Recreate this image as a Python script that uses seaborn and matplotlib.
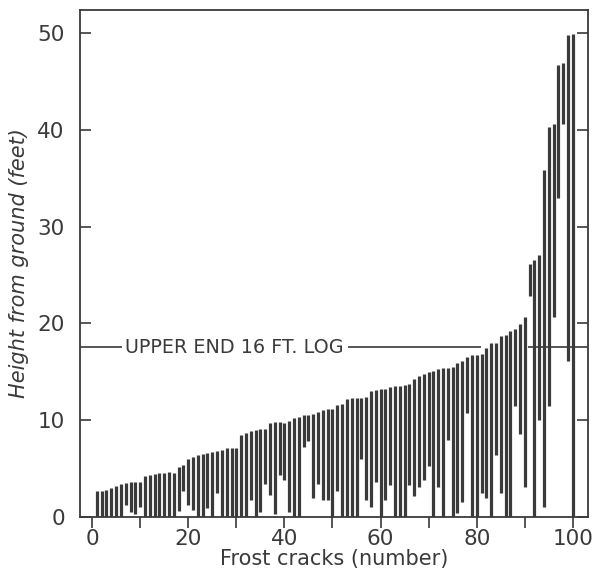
import pandas as pd
import matplotlib
matplotlib.use("Agg")
import matplotlib.pyplot as plt
import seaborn as sns

# frost cracks sorted by upper end, lower and upper end of each crack (feet)
crack_no = list(range(1, 101))
crack_bottom = [
    0, 0, 0, 0, 0, 0, 1.2, 0.5, 0.3, 1.0,
    0, 0, 0, 0, 0, 0, 0, 0.6, 2.6, 1.2,
    0.7, 0, 0, 0.85, 0, 2.4, 0, 0, 0, 0,
    0, 0, 1.7, 0, 0.5, 3.4, 2.2, 0.3, 4.3, 3.8,
    0.5, 0, 0, 7.2, 7.8, 1.9, 3.4, 1.7, 1.7, 0,
    2.6, 0, 0, 0, 0, 5.9, 1.7, 1.0, 3.6, 0,
    1.7, 3.3, 0, 0, 0, 3.3, 2.1, 3.1, 3.8, 5.2,
    0, 3.1, 0, 7.9, 0, 0.4, 1.5, 10.7, 0, 0,
    2.4, 1.9, 0, 6.4, 2.4, 0, 0, 11.4, 8.5, 3.1,
    22.8, 0, 10.0, 1.0, 11.4, 20.6, 33.0, 40.6, 16.1, 0,
]
crack_top = [
    2.6, 2.65, 2.75, 3.0, 3.15, 3.35, 3.45, 3.6, 3.6, 3.55,
    4.2, 4.3, 4.4, 4.55, 4.55, 4.65, 4.55, 5.1, 5.35, 5.95,
    6.2, 6.4, 6.5, 6.62, 6.7, 6.8, 6.9, 7.05, 7.1, 7.1,
    8.45, 8.6, 8.8, 8.95, 9.05, 9.1, 9.65, 9.8, 9.8, 9.65,
    9.85, 10.2, 10.3, 10.45, 10.5, 10.6, 10.85, 11.0, 11.1, 11.1,
    11.5, 11.65, 12.15, 12.25, 12.25, 12.25, 12.4, 13.0, 13.1, 13.15,
    13.2, 13.4, 13.5, 13.55, 13.65, 13.7, 14.2, 14.55, 14.7, 14.9,
    15.05, 15.3, 15.35, 15.4, 15.5, 15.9, 16.05, 16.5, 16.7, 16.75,
    16.8, 17.4, 17.9, 18.0, 18.65, 18.75, 19.15, 19.35, 19.95, 20.6,
    26.1, 26.5, 27.1, 35.8, 40.3, 40.6, 46.7, 46.9, 49.8, 49.9,
]
log_top = 17.5
log_label = "UPPER END 16 FT. LOG"

x_ticks = [0, 10, 20, 30, 40, 50, 60, 70, 80, 90, 100]
x_ticklabels = ["0", "", "20", "", "40", "", "60", "", "80", "", "100"]
y_ticks = [0, 10, 20, 30, 40, 50]

# long form: two points per crack, one line per crack
df = pd.DataFrame({
    "crack": crack_no + crack_no,
    "height": crack_bottom + crack_top,
})

sns.set_style("white")
plt.rcParams["font.family"] = ["DejaVu Sans"]
plt.rcParams["lines.solid_capstyle"] = "butt"
ink = "#3a3a3a"

fig = plt.figure(figsize=(5.93, 5.73), dpi=100)
ax = fig.add_axes([0.135, 0.0986, 0.857, 0.884])

sns.lineplot(data=df, x="crack", y="height", units="crack", estimator=None,
             sort=False, color=ink, linewidth=2.3, ax=ax)

# reference line for top of the first log
ax.plot([-2.5, 6.2], [log_top, log_top], color=ink, linewidth=1.2)
ax.plot([53.2, 80.8], [log_top, log_top], color=ink, linewidth=1.2)
ax.plot([90.7, 104], [log_top, log_top], color=ink, linewidth=1.2, zorder=1)
ax.text(6.9, log_top, log_label, va="center", ha="left", fontsize=13.8, color=ink)

ax.set_xlim(-2.5, 103.2)
ax.set_ylim(0, 52.4)
ax.set_xticks(x_ticks)
ax.set_xticklabels(x_ticklabels)
ax.set_yticks(y_ticks)

ax.tick_params(axis="y", direction="in", length=8, width=1.2, left=True, right=True,
               labelsize=15.5, colors=ink, pad=11)
ax.tick_params(axis="x", direction="out", length=8, width=1.2, bottom=True,
               labelsize=15.5, colors=ink, pad=1)
for s in ax.spines.values():
    s.set_visible(True)
    s.set_color(ink)
    s.set_linewidth(1.3)

ax.set_xlabel("Frost cracks (number)", fontsize=15, color=ink, labelpad=0)
ax.set_ylabel("Height from ground (feet)", fontsize=15, color=ink, style="italic", labelpad=6)

plt.savefig("out.png", dpi=100)
